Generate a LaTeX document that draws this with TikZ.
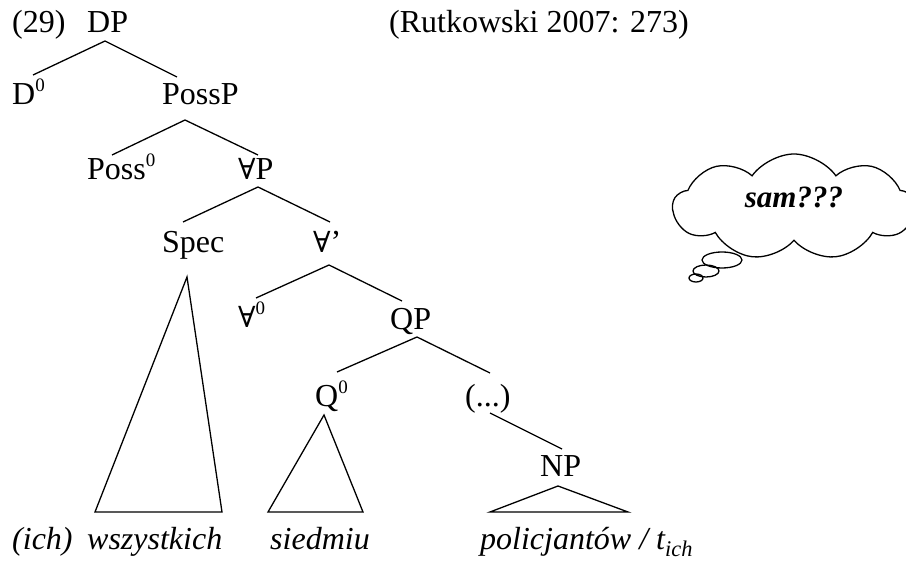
\documentclass[tikz,border=0pt]{standalone}
\usepackage{fontspec}
\setmainfont{Liberation Serif}
\newfontfamily\symfont{DejaVu Serif}
\usetikzlibrary{shapes.symbols}
\newcommand\supnum[1]{\raisebox{13pt}{\fontsize{19}{20}\selectfont #1}}
\newcommand\fa{{\symfont\fontsize{29}{34}\selectfont ∀}}
\tikzset{
  lbl/.style={font=\fontsize{32}{38}\selectfont, inner sep=0pt, anchor=base west},
  word/.style={lbl, font=\fontsize{32}{38}\selectfont\itshape},
  edge/.style={line width=1.3pt},
  tri/.style={line width=1.3pt, line join=miter},
}
\begin{document}
\begin{tikzpicture}[x=1pt,y=-1pt]
\useasboundingbox (0,0) rectangle (906,561);
% header
\node[lbl] (num) at (12,33) {(29)};
\node[lbl] (src) at (389,33) {(Rutkowski 2007: 273)};
% categories
\node[lbl] (DP) at (87,33) {DP};
\node[lbl] (D0) at (12,105) {D\supnum{0}};
\node[lbl] (PossP) at (162,105) {PossP};
\node[lbl] (Poss0) at (87,180) {Poss\supnum{0}};
\node[lbl] (AP) at (238,180) {\fa P};
\node[lbl] (Spec) at (162,253) {Spec};
\node[lbl] (Abar) at (313,253) {\fa’};
\node[lbl] (A0) at (238,328) {\fa\supnum{0}};
\node[lbl] (QP) at (390,330) {QP};
\node[lbl] (Q0) at (315,407) {Q\supnum{0}};
\node[lbl] (dots) at (465,407) {(...)};
\node[lbl] (NP) at (540,477) {NP};
% words
\node[word] (ich) at (12,550) {(ich)};
\node[word] (wsz) at (87,550) {wszystkich};
\node[word] (sie) at (270,550) {siedmiu};
\node[word] (pol) at (480,550) {policjantów / t\textsubscript{ich}};
% branches
\draw[edge] ([shift={(18,8)}]DP.base west) -- ([shift={(21,-30)}]D0.base west);
\draw[edge] ([shift={(18,8)}]DP.base west) -- ([shift={(15,-28)}]PossP.base west);
\draw[edge] ([shift={(23,15)}]PossP.base west) -- ([shift={(25,-25)}]Poss0.base west);
\draw[edge] ([shift={(23,15)}]PossP.base west) -- ([shift={(20,-25)}]AP.base west);
\draw[edge] ([shift={(20,7)}]AP.base west) -- ([shift={(21,-31)}]Spec.base west);
\draw[edge] ([shift={(20,7)}]AP.base west) -- ([shift={(17,-31)}]Abar.base west);
\draw[edge] ([shift={(16,12)}]Abar.base west) -- ([shift={(18,-30)}]A0.base west);
\draw[edge] ([shift={(16,12)}]Abar.base west) -- ([shift={(12,-29)}]QP.base west);
\draw[edge] ([shift={(27,7)}]QP.base west) -- ([shift={(22,-35)}]Q0.base west);
\draw[edge] ([shift={(27,7)}]QP.base west) -- ([shift={(25,-34)}]dots.base west);
\draw[edge] ([shift={(25,6)}]dots.base west) -- ([shift={(22,-28)}]NP.base west);
% triangles
\coordinate (specL) at (95,512);
\coordinate (specR) at (222,512);
\coordinate (qL) at (268,512);
\coordinate (qR) at (363,512);
\coordinate (npL) at (490,512);
\coordinate (npR) at (628,512);
\draw[tri] ([shift={(25,24)}]Spec.base west) -- (specL) -- (specR) -- cycle;
\draw[tri] ([shift={(9,8)}]Q0.base west) -- (qL) -- (qR) -- cycle;
\draw[tri] ([shift={(18,9)}]NP.base west) -- (npL) -- (npR) -- cycle;
% thought cloud
\node[cloud, draw, line width=1.3pt, cloud puffs=9, cloud puff arc=110, aspect=2.3,
      minimum width=242pt, minimum height=106pt, inner sep=0pt] (cloud) at (794,207) {};
\node[lbl, anchor=base, font=\fontsize{31}{36}\selectfont\bfseries\itshape] (sam) at (794,208) {sam???};
\draw[line width=1.3pt] (722,260) ellipse [x radius=20pt, y radius=8pt];
\draw[line width=1.3pt] (706,271) ellipse [x radius=13pt, y radius=6pt];
\draw[line width=1.3pt] (696,278) ellipse [x radius=7pt, y radius=4pt];
\end{tikzpicture}
\end{document}
